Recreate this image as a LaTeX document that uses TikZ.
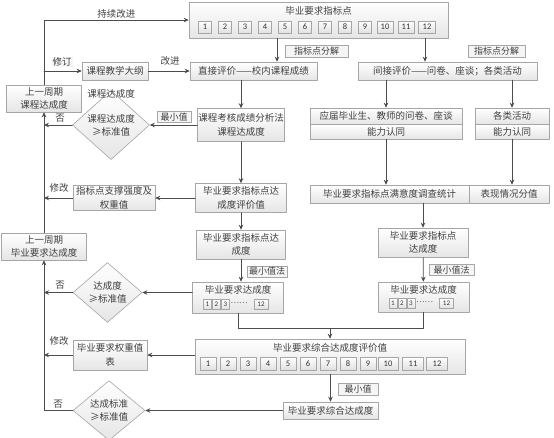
\documentclass[tikz,border=0pt]{standalone}
\usepackage{fontspec}
\newfontfamily\cjk{Noto Sans CJK SC}
\newfontfamily\numfont{Carlito}
\usetikzlibrary{shapes.geometric,arrows.meta}

\begin{document}
\begin{tikzpicture}[x=1pt,y=-1pt,line cap=round,line join=round,
  box/.style={draw=black!35,line width=0.6pt,top color=white,bottom color=black!10,
    text=black!75,font=\cjk\fontsize{9.5}{13.5}\selectfont,align=center,inner sep=0pt},
  numbox/.style={draw=black!35,line width=0.5pt,top color=white,bottom color=black!12,
    text=black!80,font=\numfont\fontsize{8.5}{9}\selectfont,inner sep=0pt},
  minibox/.style={numbox,font=\numfont\fontsize{7}{8}\selectfont,minimum height=10pt},
  tag/.style={draw=black!35,line width=0.5pt,fill=black!4,text=black!75,
    font=\cjk\fontsize{9}{10}\selectfont,inner sep=0pt},
  lbl/.style={text=black!75,font=\cjk\fontsize{9.5}{11}\selectfont,inner sep=1pt},
  dots/.style={text=black!65,font=\cjk\fontsize{8}{8}\selectfont,inner sep=0pt},
  dia/.style={diamond,draw=black!35,line width=0.6pt,top color=white,bottom color=black!10,
    text=black!75,font=\cjk\fontsize{9.5}{13}\selectfont,align=center,inner sep=0pt},
  arr/.style={draw=black!70,line width=0.7pt,-{Stealth[length=5pt,width=4.5pt]}},
  ln/.style={draw=black!70,line width=0.7pt}]
\useasboundingbox (0,0) rectangle (554,437);
\fill[white] (0,0) rectangle (554,437);

% graduation requirement indicators
\node[box,minimum width=259pt,minimum height=36pt] (goal) at (318.5,20) {};
\node[lbl] (goalt) at (318.5,11) {毕业要求指标点};
\foreach \i/\cx/\w in {1/205/13,2/225/13,3/245/13,4/265/13,5/285/13,6/305/13,7/325/13,8/345/13,9/365/13,10/385/16,11/406/16,12/427/17}
  \node[numbox,minimum width=\w pt,minimum height=12pt] (g\i) at (\cx,27) {\i};

% left column
\node[box,minimum width=75pt,minimum height=27pt] (prevc) at (44,98.5) {上一周期\\课程达成度};
\node[box,minimum width=85pt,minimum height=27pt] (prevg) at (44,246.5) {上一周期\\毕业要求达成度};
\node[box,minimum width=66pt,minimum height=18pt] (syl) at (115,71) {课程教学大纲};
\node[box,minimum width=127pt,minimum height=18pt] (direct) at (253.5,71) {直接评价——校内课程成绩};
\node[box,minimum width=87pt,minimum height=33pt] (course) at (241,125) {课程考核成绩分析法\\课程达成度};
\node[dia,minimum width=77pt,minimum height=46pt] (dia1) at (111,125) {课程达成度\\≥标准值};
\node[lbl] (diat) at (111,94) {课程达成度};
\node[box,minimum width=91pt,minimum height=29pt] (eval) at (241,198) {毕业要求指标点达\\成度评价值};
\node[box,minimum width=82pt,minimum height=25pt] (weight) at (114,198) {指标点支撑强度及\\权重值};
\node[box,minimum width=89pt,minimum height=29pt] (lgoal) at (241,244.5) {毕业要求指标点达\\成度};
\node[box,minimum width=91pt,minimum height=31pt] (lach) at (238,297.5) {};
\node[lbl] (lacht) at (238,290) {毕业要求达成度};
\node[dia,minimum width=69pt,minimum height=51pt] (dia2) at (107.5,292.5) {达成度\\≥标准值};

% right column
\node[box,minimum width=179pt,minimum height=18pt] (indirect) at (447.5,71) {间接评价——问卷、座谈；各类活动};
\node[box,minimum width=152pt,minimum height=16pt] (survey) at (386,116) {应届毕业生、教师的问卷、座谈};
\node[box,minimum width=152pt,minimum height=15pt] (survey2) at (386,131.5) {能力认同};
\node[box,minimum width=74pt,minimum height=16pt] (act) at (512,116) {各类活动};
\node[box,minimum width=74pt,minimum height=15pt] (act2) at (512,131.5) {能力认同};
\node[box,minimum width=159pt,minimum height=18pt] (stats) at (389.5,194) {毕业要求指标点满意度调查统计};
\node[box,minimum width=80pt,minimum height=18pt] (perf) at (509,194) {表现情况分值};
\node[box,minimum width=90pt,minimum height=29pt] (rgoal) at (423,242.5) {毕业要求指标点\\达成度};
\node[box,minimum width=91pt,minimum height=30pt] (rach) at (423.5,297) {};
\node[lbl] (racht) at (423.5,289.5) {毕业要求达成度};
\foreach \s/\dx/\w/\t in {a/-30.5/8/1,b/-21.5/8/2,c/-12.5/8/3,d/23/14/12}{
  \node[minibox,minimum width=\w pt] (l\s) at ([xshift=\dx pt]lach.center |- 0,304) {\t};
  \node[minibox,minimum width=\w pt] (r\s) at ([xshift=\dx pt]rach.center |- 0,303.5) {\t};
}
\node[dots] (ldots) at ([xshift=1pt]lach.center |- 0,303) {……};
\node[dots] (rdots) at ([xshift=1pt]rach.center |- 0,302.5) {……};

% bottom
\node[box,minimum width=270pt,minimum height=35pt] (comp) at (330,356.5) {};
\node[lbl] (compt) at (330,348) {毕业要求综合达成度评价值};
\foreach \i/\cx/\w in {1/208/16,2/228/16,3/248/16,4/268/16,5/288/16,6/308/16,7/328/16,8/348/16,9/368/16,10/388/20,11/413/21,12/437/21}
  \node[numbox,minimum width=\w pt,minimum height=13pt] (c\i) at (\cx,363.5) {\i};
\node[box,minimum width=74pt,minimum height=30pt] (weight2) at (110,355) {毕业要求权重值\\表};
\node[box,minimum width=95pt,minimum height=17pt] (final) at (330.5,410.5) {毕业要求综合达成度};
\node[dia,minimum width=72pt,minimum height=43pt] (dia3) at (109,410.5) {达成标准\\≥标准值};

% tags
\node[tag,minimum width=63pt,minimum height=12pt] (split1) at (316.5,51.5) {指标点分解};
\node[tag,minimum width=57pt,minimum height=12pt] (split2) at (496.5,51.5) {指标点分解};
\node[tag,minimum width=34pt,minimum height=11pt] (min1) at (174,117) {最小值};
\node[tag,minimum width=40pt,minimum height=11pt] (min2) at (267,271.5) {最小值法};
\node[tag,minimum width=45pt,minimum height=11pt] (min3) at (451.5,270) {最小值法};
\node[tag,minimum width=40pt,minimum height=12pt] (min4) at (358,389.5) {最小值};

% helper x positions
\coordinate (xa) at (277,0);
\coordinate (xb) at (425,0);
\coordinate (join) at (330,328);

% connectors
\draw[arr] (prevc.north) |- (goal.west) node[lbl,pos=0.75,above] (t1) {持续改进};
\draw[arr] (prevc.north |- syl.west) -- (syl.west);
\node[lbl,fill=black!4] (t2) at (62,62) {修订};
\draw[arr] (syl) -- (direct);
\node[lbl] (t3) at (170,61) {改进};
\draw[arr] (goal.south -| xa) -- (direct.north -| xa);
\draw[arr] (goal.south -| xb) -- (indirect.north -| xb);
\draw[arr] (indirect.south -| survey.north) -- (survey.north);
\draw[arr] (indirect.south -| act.north) -- (act.north);
\draw[arr] (survey2.south) -- (stats.north -| survey2.south);
\draw[arr] (act2.south) -- (perf.north -| act2.south);
\draw[arr] (stats.south -| rgoal.north) -- (rgoal.north);
\draw[arr] (rgoal) -- (rach);
\draw[arr] (rach.south) |- (join) -- (comp.north);
\draw[ln] (lach.south) |- (join);
\draw[arr] (direct.south -| course.north) -- (course.north);
\draw[arr] (course) -- (dia1);
\draw[arr] (dia1.west) -- (dia1.west -| prevc.south);
\node[lbl] (n1) at (60,118) {否};
\draw[arr] (prevg.north) -- (prevc.south);
\draw[arr] (course) -- (eval);
\draw[arr] (eval) -- (weight);
\draw[arr] (weight.west) -- (weight.west -| prevc.south);
\node[lbl] (m1) at (59,188) {修改};
\draw[arr] (eval) -- (lgoal);
\draw[arr] (lgoal.south) -- (lach.north -| lgoal.south);
\draw[arr] (lach.west |- dia2) -- (dia2.east);
\draw[arr] (dia2.west) -- (dia2.west -| prevg.south);
\node[lbl] (n2) at (60,285) {否};
\draw[arr] (comp.west |- weight2) -- (weight2.east);
\draw[arr] (weight2.west) -- (weight2.west -| prevg.south);
\node[lbl] (m2) at (59,341) {修改};
\draw[arr] (comp.south -| final.north) -- (final.north);
\draw[arr] (final.west) -- (dia3.east);
\draw[arr] (dia3.west) -| (prevg.south);
\node[lbl] (n3) at (58,404) {否};
\end{tikzpicture}
\end{document}
